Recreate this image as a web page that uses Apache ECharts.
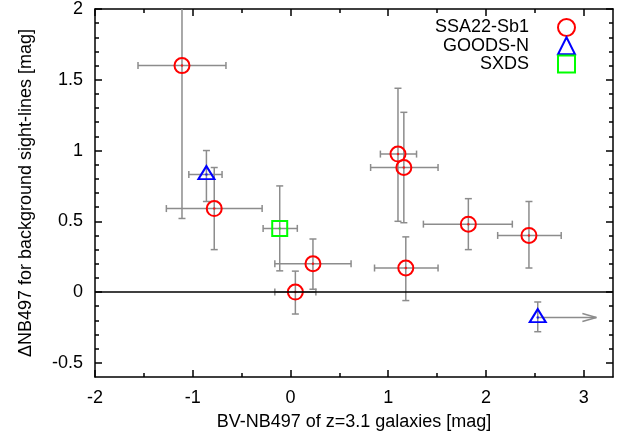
<!DOCTYPE html>
<html>
<head>
<meta charset="utf-8">
<script src="https://cdn.jsdelivr.net/npm/echarts@6/dist/echarts.min.js"></script>
<style>
  html, body { margin: 0; padding: 0; background: #fff; }
  #chart { width: 620px; height: 439px; }
</style>
</head>
<body>
<div id="chart"></div>
<script>
// SSA22-Sb1 (red circles)
const ssaX   = [-1.11, -0.78, 0.05, 0.23, 1.10, 1.16, 1.18, 1.82, 2.44];
const ssaY   = [1.60, 0.59, 0.00, 0.20, 0.975, 0.88, 0.17, 0.48, 0.40];
const ssaXLo = [-1.56, -1.27, -0.16, -0.16, 0.92, 0.82, 0.86, 1.36, 2.12];
const ssaXHi = [-0.66, -0.29, 0.26, 0.62, 1.29, 1.51, 1.51, 2.27, 2.77];
const ssaYLo = [0.52, 0.30, -0.155, 0.02, 0.50, 0.49, -0.06, 0.30, 0.17];
const ssaYHi = [2.60, 0.88, 0.148, 0.375, 1.44, 1.27, 0.39, 0.66, 0.64];

// GOODS-N (blue triangles); second point is a lower limit in x (arrow)
const goodsX     = [-0.86, 2.53];
const goodsY     = [0.83, -0.18];
const goodsXLo   = [-1.04, null];
const goodsXHi   = [-0.70, null];
const goodsYLo   = [0.64, -0.28];
const goodsYHi   = [1.00, -0.07];
const goodsArrow = [null, 3.13];

// SXDS (green squares)
const sxdsX   = [-0.11];
const sxdsY   = [0.45];
const sxdsXLo = [-0.28];
const sxdsXHi = [0.07];
const sxdsYLo = [0.15];
const sxdsYHi = [0.75];

// tick values
const xMajor = [-2, -1, 0, 1, 2, 3];
const xMinor = [-1.5, -0.5, 0.5, 1.5, 2.5];
const yMajor = [-0.5, 0, 0.5, 1, 1.5, 2];
const yMinor = [-0.4, -0.3, -0.2, -0.1, 0.1, 0.2, 0.3, 0.4, 0.6, 0.7, 0.8, 0.9,
                1.1, 1.2, 1.3, 1.4, 1.6, 1.7, 1.8, 1.9];

const FONT = "'Liberation Sans', Arial, sans-serif";
const FS = 18;

// build rows for the error-bar series
function errRows(xs, ys, xlo, xhi, ylo, yhi, arrow) {
    return xs.map((x, i) => [x, ys[i], xlo[i], xhi[i], ylo[i], yhi[i], arrow ? arrow[i] : null]);
}
const errData = []
    .concat(errRows(ssaX, ssaY, ssaXLo, ssaXHi, ssaYLo, ssaYHi))
    .concat(errRows(goodsX, goodsY, goodsXLo, goodsXHi, goodsYLo, goodsYHi, goodsArrow))
    .concat(errRows(sxdsX, sxdsY, sxdsXLo, sxdsXHi, sxdsYLo, sxdsYHi));

function ok(v) { return v !== null && v !== undefined && isFinite(v); }

function renderErr(params, api) {
    const x = api.value(0), y = api.value(1);
    const xlo = api.value(2), xhi = api.value(3), ylo = api.value(4), yhi = api.value(5), arr = api.value(6);
    const style = { stroke: '#8c8c8c', lineWidth: 1.5 };
    const cap = 3.5;
    const kids = [];
    const line = (x1, y1, x2, y2) => kids.push({ type: 'line', shape: { x1, y1, x2, y2 }, style });
    if (ok(xlo) && ok(xhi)) {
        const a = api.coord([xlo, y]), b = api.coord([xhi, y]);
        line(a[0], a[1], b[0], b[1]);
        line(a[0], a[1] - cap, a[0], a[1] + cap);
        line(b[0], b[1] - cap, b[0], b[1] + cap);
    }
    if (ok(ylo) && ok(yhi)) {
        const a = api.coord([x, ylo]), b = api.coord([x, yhi]);
        line(a[0], a[1], b[0], b[1]);
        line(a[0] - cap, a[1], a[0] + cap, a[1]);
        line(b[0] - cap, b[1], b[0] + cap, b[1]);
    }
    if (ok(arr)) {
        const a = api.coord([x, y]), b = api.coord([arr, y]);
        line(a[0], a[1], b[0], b[1]);
        line(b[0] - 14, b[1] - 4, b[0], b[1]);
        line(b[0] - 14, b[1] + 4, b[0], b[1]);
    }
    return { type: 'group', children: kids };
}

const pts = (xs, ys) => xs.map((x, i) => [x, ys[i]]);

function majorAxis(pos, labels, extra) {
    return Object.assign({
        type: 'value', position: pos, gridIndex: 0,
        axisLine: { show: true, onZero: false, lineStyle: { color: '#000', width: 1.5 } },
        axisTick: { show: true, inside: true, length: 7, customValues: pos === 'left' || pos === 'right' ? yMajor : xMajor,
                    lineStyle: { color: '#000', width: 1.5 } },
        axisLabel: labels ? { show: true, customValues: pos === 'left' ? yMajor : xMajor, fontSize: FS, color: '#000',
                              fontFamily: FONT, margin: 12 } : { show: false },
        splitLine: { show: false }
    }, extra);
}
function minorAxis(pos, extra) {
    return Object.assign({
        type: 'value', position: pos, gridIndex: 0,
        axisLine: { show: false, onZero: false },
        axisTick: { show: true, inside: true, length: 4, customValues: pos === 'left' || pos === 'right' ? yMinor : xMinor,
                    lineStyle: { color: '#000', width: 1.5 } },
        axisLabel: { show: false },
        splitLine: { show: false }
    }, extra);
}

const xr = { min: -2, max: 3.3 };
const yr = { min: -0.6, max: 2 };

let mychart = echarts.init(document.getElementById('chart'));
let option = {
    animation: false,
    grid: { left: 95, top: 9, right: 7, bottom: 62, containLabel: false },
    legend: {
        orient: 'vertical', right: 39, top: 13, align: 'right',
        itemWidth: 17, itemHeight: 17, itemGap: -0.8, selectedMode: false,
        textStyle: { fontSize: FS, lineHeight: 17, color: '#000', fontFamily: FONT, padding: [0, 24, 0, 0] },
        data: ['SSA22-Sb1', 'GOODS-N', 'SXDS']
    },
    xAxis: [
        majorAxis('bottom', true, Object.assign({
            name: 'BV-NB497 of z=3.1 galaxies [mag]', nameLocation: 'middle', nameGap: 36,
            nameTextStyle: { fontSize: FS, color: '#000', fontFamily: FONT }
        }, xr)),
        minorAxis('bottom', xr),
        majorAxis('top', false, xr),
        minorAxis('top', xr)
    ],
    yAxis: [
        majorAxis('left', true, Object.assign({
            name: 'ΔNB497 for background sight-lines [mag]', nameLocation: 'middle', nameGap: 60,
            nameRotate: 90,
            nameTextStyle: { fontSize: FS, color: '#000', fontFamily: FONT }
        }, yr)),
        minorAxis('left', yr),
        majorAxis('right', false, yr),
        minorAxis('right', yr)
    ],
    series: [
        {
            type: 'custom', renderItem: renderErr, data: errData, clip: true, z: 1,
            encode: { x: 0, y: 1 }, silent: true
        },
        {
            name: 'SSA22-Sb1', type: 'scatter', data: pts(ssaX, ssaY), symbol: 'circle', symbolSize: 15, z: 3,
            itemStyle: { color: 'rgba(0,0,0,0)', borderColor: '#ff0000', borderWidth: 2, opacity: 1 },
            markLine: {
                silent: true, symbol: ['none', 'none'], label: { show: false },
                lineStyle: { color: '#000', width: 1.5, type: 'solid' },
                data: [{ yAxis: 0 }]
            }
        },
        {
            name: 'GOODS-N', type: 'scatter', data: pts(goodsX, goodsY), symbol: 'triangle', symbolSize: [16, 13],
            symbolOffset: [0, -2], z: 3,
            itemStyle: { color: 'rgba(0,0,0,0)', borderColor: '#0000ff', borderWidth: 2, opacity: 1 }
        },
        {
            name: 'SXDS', type: 'scatter', data: pts(sxdsX, sxdsY), symbol: 'rect', symbolSize: 15, z: 3,
            itemStyle: { color: 'rgba(0,0,0,0)', borderColor: '#00ff00', borderWidth: 2, opacity: 1 }
        },
        // centre dots
        { type: 'scatter', data: pts(ssaX, ssaY), symbolSize: 2.5, z: 4, itemStyle: { color: '#ff0000' }, silent: true },
        { type: 'scatter', data: pts(goodsX, goodsY), symbolSize: 2.5, z: 4, itemStyle: { color: '#0000ff' }, silent: true },
        { type: 'scatter', data: pts(sxdsX, sxdsY), symbolSize: 2.5, z: 4, itemStyle: { color: '#00ff00' }, silent: true }
    ]
};
mychart.setOption(option);
window.addEventListener('resize', () => {
    mychart.resize();
});
</script>
</body>
</html>
